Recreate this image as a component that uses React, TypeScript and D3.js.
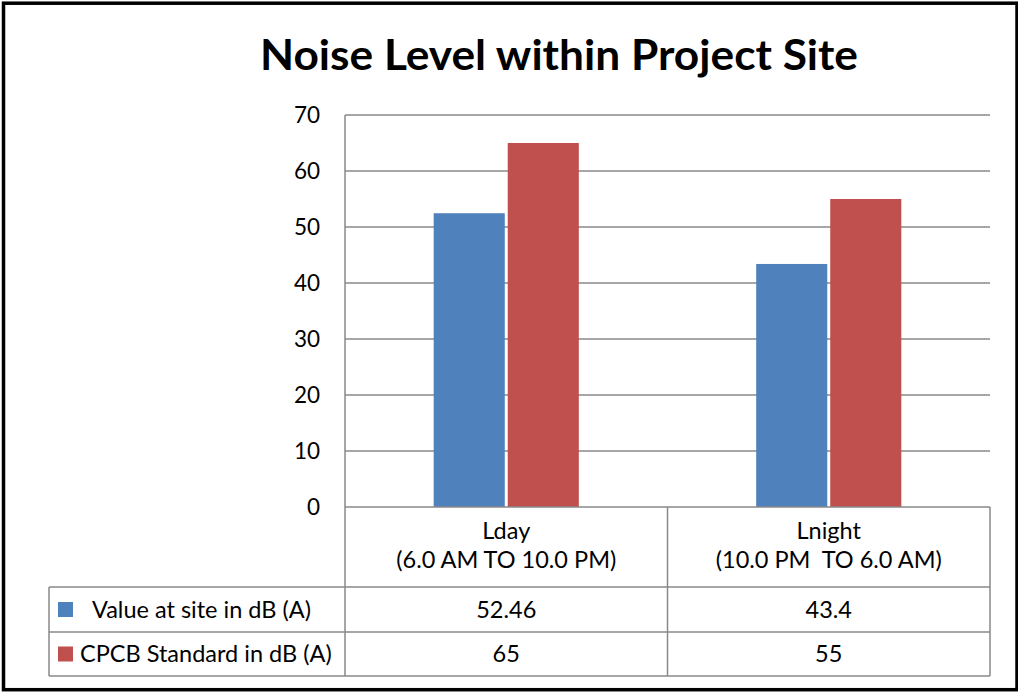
import { useEffect, useRef } from "react";
import * as d3 from "d3";

const title = "Noise Level within Project Site";
const categories = ["Lday", "Lnight"];
const categorySubLabels = ["(6.0 AM TO 10.0 PM)", "(10.0 PM  TO 6.0 AM)"];
const seriesNames = ["Value at site in dB (A)", "CPCB Standard in dB (A)"];
const seriesColors = ["#4F81BD", "#C0504D"];
const valueAtSite = [52.46, 43.4];
const cpcbStandard = [65, 55];
const tableLabels = [["52.46", "43.4"], ["65", "55"]];
const yTicks = [0, 10, 20, 30, 40, 50, 60, 70];

const W = 1018;
const H = 692;
const FONT = "Lato, 'Open Sans', sans-serif";
const GRID = "#898989";
const TXT = 23.5;

export default function App() {
  const svgRef = useRef<SVGSVGElement | null>(null);

  useEffect(() => {
    const svg = d3.select(svgRef.current);
    svg.selectAll("*").remove();

    // plot box
    const left = 345, right = 990, top = 115, bottom = 507;
    const rowH = [80, 45, 44]; // category row, series rows
    const tableLeft = 49;

    const series = [valueAtSite, cpcbStandard];

    const x0 = d3.scaleBand<string>()
      .domain(categories)
      .range([left, right])
      .paddingInner(0.55)
      .paddingOuter(0.275);
    const x1 = d3.scaleBand<number>()
      .domain([0, 1])
      .range([0, x0.bandwidth()])
      .paddingInner(0.04);
    const y = d3.scaleLinear().domain([0, 70]).range([bottom, top]);

    // background
    svg.append("rect").attr("width", W).attr("height", H).attr("fill", "#fff");

    // title
    svg.append("text")
      .attr("x", 559)
      .attr("y", 70)
      .attr("text-anchor", "middle")
      .attr("font-family", FONT)
      .attr("font-weight", 700)
      .attr("font-size", 42)
      .attr("textLength", 598)
      .attr("lengthAdjust", "spacingAndGlyphs")
      .text(title);

    // grid
    svg.append("g")
      .selectAll("line")
      .data(yTicks.filter(t => t > 0))
      .join("line")
      .attr("x1", left).attr("x2", right)
      .attr("y1", d => y(d)).attr("y2", d => y(d))
      .attr("stroke", GRID).attr("stroke-width", 1.5);

    // y labels
    const axisY = d3.axisLeft(y).tickValues(yTicks).tickSize(0).tickPadding(25);
    const gy = svg.append("g").attr("transform", `translate(${left},0)`).call(axisY);
    gy.select(".domain").remove();
    gy.selectAll("text")
      .attr("font-family", FONT)
      .attr("font-size", 22.5)
      .attr("fill", "#000")
      .attr("dy", "0.35em");

    // bars
    categories.forEach((c, ci) => {
      series.forEach((s, si) => {
        svg.append("rect")
          .attr("x", (x0(c) ?? 0) + (x1(si) ?? 0))
          .attr("y", y(s[ci]))
          .attr("width", x1.bandwidth())
          .attr("height", y(0) - y(s[ci]))
          .attr("fill", seriesColors[si]);
      });
    });

    // table lines
    const step = x0.step();
    const r0 = bottom, r1 = r0 + rowH[0], r2 = r1 + rowH[1], r3 = r2 + rowH[2];
    const g = svg.append("g").attr("stroke", GRID).attr("stroke-width", 1.5);
    const ln = (a: number, b: number, c: number, d: number) =>
      g.append("line").attr("x1", a).attr("y1", b).attr("x2", c).attr("y2", d);
    ln(left, top, left, r3);
    ln(left, r0, right, r0);
    [r1, r2, r3].forEach(r => ln(tableLeft, r, right, r));
    ln(tableLeft, r1, tableLeft, r3);
    ln(left + step, r0, left + step, r3);
    ln(right, r0, right, r3);

    // category labels
    categories.forEach((c, ci) => {
      const cx = (x0(c) ?? 0) + x0.bandwidth() / 2;
      const t = svg.append("text")
        .attr("text-anchor", "middle")
        .attr("font-family", FONT)
        .attr("font-size", TXT)
        .attr("fill", "#000")
        .style("white-space", "pre");
      t.append("tspan").attr("x", cx).attr("y", r0 + 32).text(c);
      t.append("tspan").attr("x", cx).attr("y", r0 + 61).text(categorySubLabels[ci]);
    });

    // series rows
    const rowTops = [r1, r2];
    seriesNames.forEach((name, si) => {
      const rt = rowTops[si];
      const rh = rowH[si + 1];
      svg.append("rect")
        .attr("x", 58).attr("y", rt + rh / 2 - 7.5)
        .attr("width", 15).attr("height", 15)
        .attr("fill", seriesColors[si]);
      svg.append("text")
        .attr("x", si === 0 ? 92 : 80)
        .attr("y", rt + rh / 2 + 8)
        .attr("font-family", FONT)
        .attr("font-size", TXT)
        .attr("fill", "#000")
        .text(name);
      categories.forEach((c, ci) => {
        svg.append("text")
          .attr("x", (x0(c) ?? 0) + x0.bandwidth() / 2)
          .attr("y", rt + rh / 2 + 8)
          .attr("text-anchor", "middle")
          .attr("font-family", FONT)
          .attr("font-size", TXT)
          .attr("fill", "#000")
          .text(tableLabels[si][ci]);
      });
    });

    // outer frame
    svg.append("rect")
      .attr("x", 3.5).attr("y", 3.2)
      .attr("width", 1013.5).attr("height", 686.5)
      .attr("fill", "none")
      .attr("stroke", "#000")
      .attr("stroke-width", 3.5);
  }, []);

  return (
    <svg
      ref={svgRef}
      width={W}
      height={H}
      style={{ position: "absolute", left: 0, top: 0 }}
    />
  );
}
